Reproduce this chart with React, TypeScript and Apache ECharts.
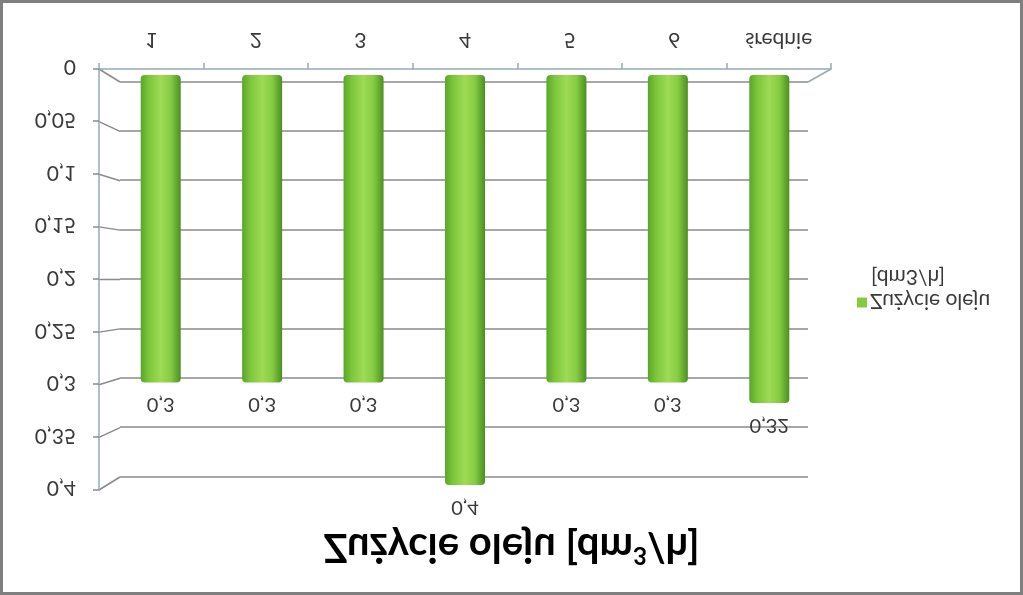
import { useEffect, useRef } from 'react';
import * as echarts from 'echarts';

// --- data ---
const categories = ['1', '2', '3', '4', '5', '6', 'średnie'];
const oilUse = [0.3, 0.3, 0.3, 0.4, 0.3, 0.3, 0.32];
const valueTicks = [0, 0.05, 0.1, 0.15, 0.2, 0.25, 0.3, 0.35, 0.4];
const seriesName = 'Zużycie oleju';
const unitLabel = '[dm3/h]';

// --- layout (unflipped coordinates, the page is mirrored vertically) ---
const W = 1023;
const FRONT = { left: 99, right: 192, top: 105, bottom: 69 };
const BACK = { left: 120, right: 215, top: 118, bottom: 82 };
const BARS = { left: 110, right: 203, top: 110, bottom: 75 };
const FONT = 'Lato, "Noto Sans", sans-serif';
const AXIS_BLUE = '#95aab5';
const GRID_GRAY = '#8a8a8a';
const TEXT = '#3a3a3a';

const fmt = (v: number) => String(+v.toFixed(2)).replace('.', ',');

export default function App() {
  const ref = useRef<HTMLDivElement>(null);

  useEffect(() => {
    if (!ref.current) return;
    const chart = echarts.init(ref.current, null, { renderer: 'svg' });

    const baseGraphic: any[] = [
      {
        id: 'frame',
        type: 'rect',
        shape: { x: 1.5, y: 1.5, width: W - 3, height: 592 },
        style: { fill: 'none', stroke: '#7f7f7f', lineWidth: 3 },
        z: 100,
      },
      {
        id: 'unit',
        type: 'text',
        left: 871,
        top: 306,
        style: { text: unitLabel, fontSize: 21, lineHeight: 20, fontFamily: FONT, fill: TEXT },
      },
    ];

    chart.setOption({
      animation: false,
      backgroundColor: '#fff',
      title: {
        text: '{a|Zużycie oleju [dm}{s|3}{a|/h]}',
        left: 'center',
        top: 26,
        padding: 0,
        textStyle: {
          rich: {
            a: { fontSize: 40, fontWeight: 'bold', fontFamily: FONT, color: '#000', lineHeight: 40 },
            s: { fontSize: 24, fontWeight: 'bold', fontFamily: FONT, color: '#000', verticalAlign: 'top', lineHeight: 24 },
          },
        },
      },
      legend: {
        left: 852,
        top: 277,
        itemWidth: 10,
        itemHeight: 10,
        itemGap: 0,
        icon: 'rect',
        data: [{ name: seriesName, itemStyle: { color: '#84cc3e' } }],
        textStyle: { fontSize: 21, lineHeight: 20, fontFamily: FONT, color: TEXT, padding: [0, 0, 0, -2] },
      },
      grid: [{ ...FRONT }, { ...BACK }, { ...BARS }],
      xAxis: [
        {
          gridIndex: 0,
          type: 'category',
          data: categories,
          axisLine: { lineStyle: { color: AXIS_BLUE, width: 1.5 } },
          axisTick: { show: true, length: 6, lineStyle: { color: AXIS_BLUE, width: 1.5 } },
          axisLabel: { fontSize: 21, fontFamily: FONT, color: TEXT, margin: 17 },
        },
        { gridIndex: 1, type: 'category', data: categories, show: false },
        { gridIndex: 2, type: 'category', data: categories, show: false },
      ],
      yAxis: [
        {
          gridIndex: 0,
          type: 'value',
          min: 0,
          max: 0.4,
          interval: 0.05,
          axisLine: { show: true, lineStyle: { color: AXIS_BLUE, width: 1.5 } },
          axisTick: { show: true, length: 6, lineStyle: { color: GRID_GRAY, width: 1.5 } },
          splitLine: { show: false },
          axisLabel: { formatter: fmt, fontSize: 21, fontFamily: FONT, color: TEXT, margin: 23 },
        },
        {
          gridIndex: 1,
          type: 'value',
          min: 0,
          max: 0.4,
          interval: 0.05,
          axisLine: { show: false },
          axisTick: { show: false },
          axisLabel: { show: false },
          splitLine: { show: true, lineStyle: { color: GRID_GRAY, width: 1.5 } },
        },
        { gridIndex: 2, type: 'value', min: 0, max: 0.4, show: false, splitLine: { show: false } },
      ],
      series: [
        {
          name: seriesName,
          type: 'bar',
          xAxisIndex: 2,
          yAxisIndex: 2,
          barWidth: 40,
          data: oilUse,
          itemStyle: {
            borderRadius: 4,
            color: new echarts.graphic.LinearGradient(0, 0, 1, 0, [
              { offset: 0, color: '#5aa52a' },
              { offset: 0.2, color: '#7cc63a' },
              { offset: 0.5, color: '#9ddb55' },
              { offset: 0.75, color: '#86cc42' },
              { offset: 1, color: '#4b8f22' },
            ]),
          },
          label: {
            show: true,
            position: 'top',
            distance: 15,
            lineHeight: 18,
            formatter: (p: any) => fmt(p.value),
            fontSize: 20,
            fontFamily: FONT,
            color: TEXT,
          },
        },
      ],
      graphic: baseGraphic,
    });

    // 3D depth connectors between front axis ticks and back wall gridlines
    const connectors: any[] = valueTicks.map((v, i) => {
      const yf = chart.convertToPixel({ yAxisIndex: 0 }, v) as number;
      const yb = chart.convertToPixel({ yAxisIndex: 1 }, v) as number;
      return {
        id: 'conn' + i,
        type: 'polyline',
        shape: { points: [[FRONT.left, yf], [BACK.left, yb]] },
        style: { stroke: GRID_GRAY, lineWidth: 1.5, fill: 'none' },
      };
    });
    const yf0 = chart.convertToPixel({ yAxisIndex: 0 }, 0) as number;
    const yb0 = chart.convertToPixel({ yAxisIndex: 1 }, 0) as number;
    connectors.push({
      id: 'connRight',
      type: 'polyline',
      shape: { points: [[W - FRONT.right, yf0], [W - BACK.right, yb0]] },
      style: { stroke: AXIS_BLUE, lineWidth: 1.5, fill: 'none' },
    });
    chart.setOption({ graphic: [...baseGraphic, ...connectors] });

    return () => chart.dispose();
  }, []);

  return (
    <div
      ref={ref}
      style={{
        position: 'fixed',
        left: 0,
        top: 0,
        width: 1023,
        height: 595,
        background: '#fff',
        transform: 'scaleY(-1)',
      }}
    />
  );
}
